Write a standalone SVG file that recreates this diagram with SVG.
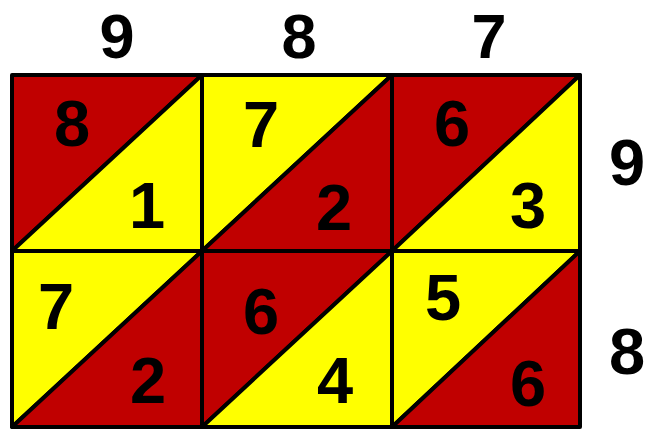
<svg xmlns="http://www.w3.org/2000/svg" width="645" height="430" viewBox="0 0 645 430">
<style>
.red{fill:#C00000}
.yel{fill:#FFFF00}
.tri{stroke:#000;stroke-width:4;stroke-linejoin:round}
text{font-family:"Liberation Sans",Arial,sans-serif;font-weight:bold;font-size:65px;fill:#000;text-anchor:middle}
.hdr{font-size:63px}
</style>
<rect width="645" height="430" fill="#fff"/>
<g id="labels-top">
<text class="hdr" x="117" y="57.5">9</text>
<text class="hdr" x="299" y="57.5">8</text>
<text class="hdr" x="489" y="57.5">7</text>
</g>
<g id="labels-right">
<text x="627" y="185">9</text>
<text x="627" y="374">8</text>
</g>
<g id="cell-r1c1">
<polygon class="tri red" points="12,75 202,75 12,251"/>
<polygon class="tri yel" points="202,75 202,251 12,251"/>
<text x="72" y="146">8</text>
<text x="147" y="228">1</text>
</g>
<g id="cell-r1c2">
<polygon class="tri yel" points="202,75 392,75 202,251"/>
<polygon class="tri red" points="392,75 392,251 202,251"/>
<text x="261" y="147">7</text>
<text x="334" y="230">2</text>
</g>
<g id="cell-r1c3">
<polygon class="tri red" points="392,75 580,75 392,251"/>
<polygon class="tri yel" points="580,75 580,251 392,251"/>
<text x="452" y="146">6</text>
<text x="528" y="228">3</text>
</g>
<g id="cell-r2c1">
<polygon class="tri yel" points="12,251 202,251 12,427"/>
<polygon class="tri red" points="202,251 202,427 12,427"/>
<text x="56" y="329">7</text>
<text x="148" y="403">2</text>
</g>
<g id="cell-r2c2">
<polygon class="tri red" points="202,251 392,251 202,427"/>
<polygon class="tri yel" points="392,251 392,427 202,427"/>
<text x="261" y="334">6</text>
<text x="335" y="403">4</text>
</g>
<g id="cell-r2c3">
<polygon class="tri yel" points="392,251 580,251 392,427"/>
<polygon class="tri red" points="580,251 580,427 392,427"/>
<text x="443" y="320">5</text>
<text x="528" y="406">6</text>
</g>
</svg>
